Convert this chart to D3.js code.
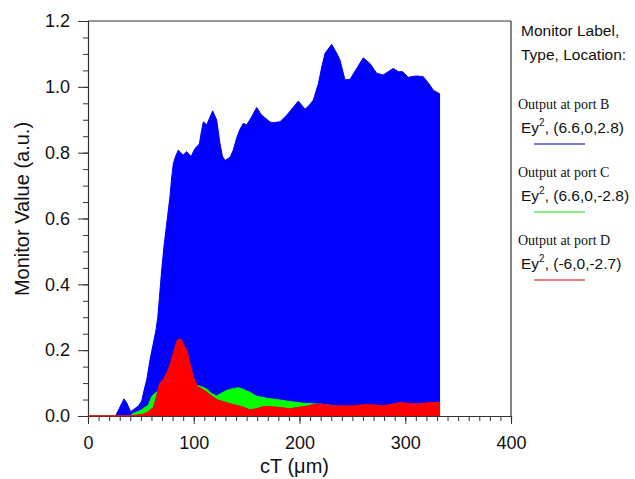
<!DOCTYPE html>
<html>
<head>
<meta charset="utf-8">
<script src="https://cdn.jsdelivr.net/npm/d3@7/dist/d3.min.js"></script>
<style>
  html, body { margin: 0; padding: 0; background: #fff; }
  svg { display: block; }
  text { fill: #111; }
</style>
</head>
<body>
<svg id="chart" width="635" height="479"></svg>
<script>
// ---- data ----
const blueX = [0, 26, 29.6, 34.0, 36.6, 40.3, 44.4, 47.6, 50.7, 53.9, 55.5, 58.6, 61.8, 64.3, 66, 69.7, 72, 75, 77.5, 79, 80.7, 83, 85.4, 87.5, 90.1, 93.3, 95.5, 97.4, 101.2, 105.3, 107, 109.1, 112.2, 115, 117.9, 121.7, 124.8, 127, 129.5, 134.3, 137.4, 140.5, 143.5, 146.9, 150.0, 154.8, 159.5, 164.2, 168.9, 172, 175.2, 181.6, 187.9, 194.2, 198.9, 205.2, 209, 213.1, 217.9, 221, 224.2, 230.4, 235.2, 238.3, 243.0, 247.8, 254.1, 260.3, 266.6, 273.0, 279.2, 283.9, 288.7, 293.4, 297.5, 302.8, 310.7, 317.0, 321.8, 326.5, 332.9];
const blueY = [0, 0, 0.023, 0.052, 0.040, 0.013, 0.023, 0.030, 0.045, 0.090, 0.109, 0.170, 0.221, 0.261, 0.300, 0.444, 0.52, 0.60, 0.666, 0.72, 0.767, 0.790, 0.808, 0.800, 0.793, 0.803, 0.795, 0.788, 0.813, 0.826, 0.86, 0.894, 0.884, 0.905, 0.927, 0.899, 0.828, 0.79, 0.776, 0.786, 0.808, 0.844, 0.870, 0.889, 0.884, 0.909, 0.937, 0.914, 0.902, 0.893, 0.891, 0.894, 0.914, 0.938, 0.957, 0.932, 0.943, 0.960, 1.010, 1.06, 1.102, 1.129, 1.102, 1.081, 1.021, 1.023, 1.056, 1.088, 1.071, 1.041, 1.036, 1.046, 1.056, 1.046, 1.046, 1.029, 1.033, 1.031, 1.012, 0.990, 0.978];

const greenX = [0, 40, 42.8, 49.2, 55.5, 57.0, 60.2, 63.4, 66, 80, 90, 100, 102.8, 107.5, 112.2, 116.9, 121.7, 126.4, 132.7, 137.4, 142.1, 146.9, 150, 153.2, 159.5, 162.6, 168.9, 178.4, 191.0, 203.6, 212, 222.5, 235.2, 244.6, 260, 280, 300, 332.9];
const greenY = [0, 0, 0.008, 0.016, 0.030, 0.033, 0.059, 0.069, 0.075, 0.09, 0.095, 0.097, 0.094, 0.089, 0.082, 0.068, 0.061, 0.070, 0.080, 0.083, 0.086, 0.081, 0.076, 0.072, 0.060, 0.058, 0.054, 0.050, 0.044, 0.039, 0.037, 0.035, 0.030, 0.026, 0.022, 0.020, 0.020, 0.020];

const redX = [0, 40, 52.3, 57, 61.8, 64.9, 68.1, 71.2, 74.4, 75.9, 79.1, 80.7, 82.3, 83.9, 86.0, 88, 90.1, 93.3, 94.8, 97, 99.6, 101.2, 103.4, 106, 109.1, 112, 115.4, 121.7, 128.0, 134.3, 140.6, 146.9, 153.2, 159.5, 165.8, 172, 178.4, 185, 191.0, 197, 203.6, 212, 221, 228, 235.2, 247.8, 254.1, 260.3, 270, 279.2, 287, 295, 302, 310.7, 317, 323.4, 332.9];
const redY = [0, 0, 0.005, 0.012, 0.025, 0.059, 0.099, 0.109, 0.130, 0.140, 0.170, 0.190, 0.206, 0.226, 0.233, 0.232, 0.216, 0.200, 0.180, 0.150, 0.119, 0.105, 0.089, 0.085, 0.079, 0.072, 0.064, 0.049, 0.043, 0.037, 0.032, 0.026, 0.018, 0.022, 0.028, 0.028, 0.026, 0.024, 0.021, 0.025, 0.028, 0.033, 0.036, 0.032, 0.030, 0.030, 0.032, 0.033, 0.033, 0.031, 0.035, 0.040, 0.038, 0.036, 0.038, 0.040, 0.041];

const xTicks = [0, 100, 200, 300, 400];
const yTicks = [0.0, 0.2, 0.4, 0.6, 0.8, 1.0, 1.2];

const legendHeader = ["Monitor Label,", "Type, Location:"];
const legendNames = ["Output at port B", "Output at port C", "Output at port D"];
const legendLocs = [", (6.6,0,2.8)", ", (6.6,0,-2.8)", ", (-6,0,-2.7)"];

const seriesColors = ["#0000ff", "#00ff00", "#ff0000"];
const legendLineColors = ["#4b4bd6", "#5fe35f", "#e05a5a"];

// ---- chart ----
const SANS = "'Liberation Sans', Arial, sans-serif";
const SERIF = "'Liberation Serif', 'Times New Roman', serif";
const svg = d3.select("#chart");
const pLeft = 88, pRight = 511, pTop = 21, pBottom = 416;

const x = d3.scaleLinear().domain([0, 400]).range([pLeft, pRight]);
const y = d3.scaleLinear().domain([0, 1.2]).range([pBottom, pTop]);

const series = [
  {xs: blueX, ys: blueY, color: seriesColors[0]},
  {xs: greenX, ys: greenY, color: seriesColors[1]},
  {xs: redX, ys: redY, color: seriesColors[2]}
];

const area = d3.area()
  .x(d => x(d[0]))
  .y0(y(0))
  .y1(d => y(d[1]));

const line = d3.line().x(d => x(d[0])).y(d => y(d[1]));

series.forEach(s => {
  const pts = s.xs.map((v, i) => [v, s.ys[i]]);
  svg.append("path").datum(pts)
    .attr("d", area)
    .attr("fill", s.color)
    .attr("stroke", "none");
  svg.append("path").datum(pts)
    .attr("d", line)
    .attr("fill", "none")
    .attr("stroke", s.color)
    .attr("stroke-width", 1);
});

// frame
const frameColor = "#333";
svg.append("line").attr("x1", pLeft).attr("x2", pRight).attr("y1", pTop).attr("y2", pTop)
  .attr("stroke", frameColor).attr("stroke-width", 1.2);
svg.append("line").attr("x1", pRight).attr("x2", pRight).attr("y1", pTop).attr("y2", pBottom)
  .attr("stroke", frameColor).attr("stroke-width", 1.2);

// x axis
const xAxis = svg.append("g").attr("transform", `translate(0,${pBottom})`);
xAxis.call(d3.axisBottom(x).ticks(40).tickSize(5).tickFormat(""))
  .call(g => g.select(".domain").attr("stroke", frameColor).attr("stroke-width", 1.2))
  .call(g => g.selectAll(".tick line").attr("stroke", frameColor));
const xMajor = svg.append("g").attr("transform", `translate(0,${pBottom})`);
xMajor.call(d3.axisBottom(x).tickValues(xTicks).tickSize(8).tickPadding(12).tickFormat(d3.format("d")))
  .call(g => g.select(".domain").remove())
  .call(g => g.selectAll(".tick line").attr("stroke", frameColor))
  .call(g => g.selectAll(".tick text").style("font-size", "18px").style("font-family", SANS).attr("fill", "#111"));

// y axis
const yAxis = svg.append("g").attr("transform", `translate(${pLeft},0)`);
yAxis.call(d3.axisLeft(y).ticks(24).tickSize(5).tickFormat(""))
  .call(g => g.select(".domain").attr("stroke", frameColor).attr("stroke-width", 1.2))
  .call(g => g.selectAll(".tick line").attr("stroke", frameColor));
const yMajor = svg.append("g").attr("transform", `translate(${pLeft},0)`);
yMajor.call(d3.axisLeft(y).tickValues(yTicks).tickSize(10).tickPadding(8).tickFormat(d3.format(".1f")))
  .call(g => g.select(".domain").remove())
  .call(g => g.selectAll(".tick line").attr("stroke", frameColor))
  .call(g => g.selectAll(".tick text").style("font-size", "18px").style("font-family", SANS).attr("fill", "#111"));

// red baseline trace drawn over the axis line, as in the reference
svg.append("path").datum(redX.map((v, i) => [v, redY[i]]))
  .attr("d", line).attr("fill", "none")
  .attr("stroke", seriesColors[2]).attr("stroke-width", 1.2);

// axis titles
svg.append("text")
  .attr("x", (pLeft + pRight) / 2 - 5).attr("y", 473)
  .attr("text-anchor", "middle")
  .style("font-family", SANS).style("font-size", "20px")
  .text("cT (\u03bcm)");
svg.append("text")
  .attr("transform", "translate(29,209) rotate(-90)")
  .attr("text-anchor", "middle")
  .style("font-family", SANS).style("font-size", "20px")
  .text("Monitor Value (a.u.)");

// legend
legendHeader.forEach((t, i) => {
  svg.append("text").attr("x", 521).attr("y", 36 + i * 24)
    .style("font-family", SANS).style("font-size", "15.5px").text(t);
});
legendNames.forEach((name, i) => {
  const base = 109 + i * 68;
  svg.append("text").attr("x", 518).attr("y", base)
    .style("font-family", SERIF).style("font-size", "14px")
    .text(name);
  const t = svg.append("text").attr("x", 521).attr("y", base + 24)
    .style("font-family", SANS).style("font-size", "15.5px");
  t.append("tspan").text("Ey");
  t.append("tspan").style("font-size", "10px").attr("dy", -7).text("2");
  t.append("tspan").attr("dy", 7).text(legendLocs[i]);
  svg.append("line").attr("x1", 534).attr("x2", 585)
    .attr("y1", base + 35).attr("y2", base + 35)
    .attr("stroke", legendLineColors[i]).attr("stroke-width", 1.5);
});
</script>
</body>
</html>
